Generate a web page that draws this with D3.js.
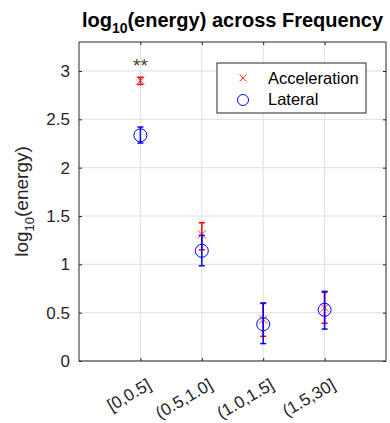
<!DOCTYPE html>
<html><head><meta charset="utf-8">
<script src="https://cdn.jsdelivr.net/npm/d3@7"></script>
<style>body{margin:0;background:#fff;} text{font-family:"Liberation Sans",Arial,sans-serif;}</style>
</head><body><svg id="c" width="390" height="423"></svg>
<script>
const categories = ["[0,0.5]", "(0.5,1.0]", "(1.0,1.5]", "(1.5,30]"];
const accMean = [2.90, 1.31, 0.43, 0.55];
const accLow  = [2.86, 1.15, 0.255, 0.39];
const accHigh = [2.935, 1.43, 0.595, 0.71];
const latMean = [2.335, 1.14, 0.38, 0.53];
const latLow  = [2.255, 0.985, 0.18, 0.33];
const latHigh = [2.42, 1.30, 0.60, 0.72];
const yTicks = [0, 0.5, 1, 1.5, 2, 2.5, 3];
const seriesNames = ["Acceleration", "Lateral"];

const svg = d3.select("#c");
const L = 79, R = 386, T = 42, B = 361;
const x = d3.scaleLinear().domain([0, 5]).range([L, R]);
const y = d3.scaleLinear().domain([0, 3.3]).range([B, T]);
const axisCol = "#262626", gridCol = "#dfdfdf";
const FS = "17px";

// grid
const g = svg.append("g");
g.selectAll(".gx").data(categories).enter().append("line")
  .attr("x1", (d,i)=>x(i+1)).attr("x2", (d,i)=>x(i+1)).attr("y1", T).attr("y2", B)
  .attr("stroke", gridCol).attr("stroke-width", 1);
g.selectAll(".gy").data(yTicks).enter().append("line")
  .attr("x1", L).attr("x2", R).attr("y1", d=>y(d)).attr("y2", d=>y(d))
  .attr("stroke", gridCol).attr("stroke-width", 1);

// axes
const yAxL = d3.axisLeft(y).tickValues(yTicks).tickSize(-3).tickPadding(9).tickFormat(d3.format("~g"));
const yAxR = d3.axisRight(y).tickValues(yTicks).tickSize(-3).tickFormat("");
const xAxB = d3.axisBottom(x).tickValues([1,2,3,4]).tickSize(-3).tickFormat("");
const xAxT = d3.axisTop(x).tickValues([1,2,3,4]).tickSize(-3).tickFormat("");
function style(sel){ sel.select(".domain").attr("stroke", axisCol); sel.selectAll(".tick line").attr("stroke", axisCol); sel.selectAll("text").attr("fill", axisCol).style("font-size",FS).style("font-family","Liberation Sans, Arial, sans-serif"); }
svg.append("g").attr("transform",`translate(${L},0)`).call(yAxL).call(style).call(s=>s.select(".domain").attr("d",`M0,${T}V${B}`));
svg.append("g").attr("transform",`translate(${R},0)`).call(yAxR).call(style).call(s=>s.select(".domain").attr("d",`M0,${T}V${B}`));
svg.append("g").attr("transform",`translate(0,${B})`).call(xAxB).call(style).call(s=>s.select(".domain").attr("d",`M${L},0H${R}`));
svg.append("g").attr("transform",`translate(0,${T})`).call(xAxT).call(style).call(s=>s.select(".domain").attr("d",`M${L},0H${R}`));

// x labels rotated
svg.append("g").selectAll("text").data(categories).enter().append("text")
  .attr("transform", (d,i)=>`translate(${x(i+1)+9},${B+22}) rotate(-30)`)
  .attr("text-anchor","end").attr("dy","0.35em")
  .style("font-size",FS).attr("fill", axisCol).text(d=>d);

// error bars
function errbars(mean, lo, hi, color, cls){
  const gg = svg.append("g");
  gg.selectAll("line.v"+cls).data(mean).enter().append("line")
    .attr("x1",(d,i)=>x(i+1)).attr("x2",(d,i)=>x(i+1)).attr("y1",(d,i)=>y(lo[i])).attr("y2",(d,i)=>y(hi[i]))
    .attr("stroke",color).attr("stroke-width",1.5);
  [lo, hi].forEach(arr=>{
    gg.selectAll(null).data(arr).enter().append("line")
      .attr("x1",(d,i)=>x(i+1)-3).attr("x2",(d,i)=>x(i+1)+3).attr("y1",d=>y(d)).attr("y2",d=>y(d))
      .attr("stroke",color).attr("stroke-width",1.5);
  });
  return gg;
}
const ga = errbars(accMean, accLow, accHigh, "#ff0000", "a");
ga.selectAll("path.xm").data(accMean).enter().append("path")
  .attr("d",(d,i)=>{const cx=x(i+1), cy=y(d), s=4; return `M${cx-s},${cy-s}L${cx+s},${cy+s}M${cx-s},${cy+s}L${cx+s},${cy-s}`;})
  .attr("stroke","#ff0000").attr("stroke-width",0.8).attr("fill","none");
const gl = errbars(latMean, latLow, latHigh, "#0000ff", "l");
gl.selectAll("circle").data(latMean).enter().append("circle")
  .attr("cx",(d,i)=>x(i+1)).attr("cy",d=>y(d)).attr("r",6.5)
  .attr("fill","none").attr("stroke","#0000ff").attr("stroke-width",1);

// significance
svg.append("text").attr("x", x(1)).attr("y", y(accHigh[0]) - 5).attr("text-anchor","middle")
  .style("font-size","19px").attr("fill","#404040").text("**");

// legend
const lg = svg.append("g");
lg.append("rect").attr("x",217).attr("y",63).attr("width",149).attr("height",50)
  .attr("fill","#fff").attr("stroke",axisCol).attr("stroke-width",1);
lg.append("path").attr("d","M239.5,74.5L246.5,81.5M239.5,81.5L246.5,74.5").attr("stroke","#ff0000").attr("stroke-width",0.8);
lg.append("circle").attr("cx",243).attr("cy",100).attr("r",5.5).attr("fill","none").attr("stroke","#0000ff");
lg.selectAll("text.lt").data(seriesNames).enter().append("text")
  .attr("x",268).attr("y",(d,i)=>84+i*21).style("font-size","16.5px").attr("fill","#000").text(d=>d);

// title
const t = svg.append("text").attr("x", (L+R)/2).attr("y", 27).attr("text-anchor","middle")
  .style("font-size","20px").style("font-weight","bold").attr("fill","#000");
t.append("tspan").text("log");
t.append("tspan").attr("dy",6).style("font-size","14px").text("10");
t.append("tspan").attr("dy",-6).text("(energy) across Frequency");

// y label
const yl = svg.append("text").attr("transform",`translate(28,${(T+B)/2}) rotate(-90)`).attr("text-anchor","middle")
  .style("font-size","19px").attr("fill",axisCol);
yl.append("tspan").text("log");
yl.append("tspan").attr("dy",6).style("font-size","13px").text("10");
yl.append("tspan").attr("dy",-6).text("(energy)");
</script></body></html>
